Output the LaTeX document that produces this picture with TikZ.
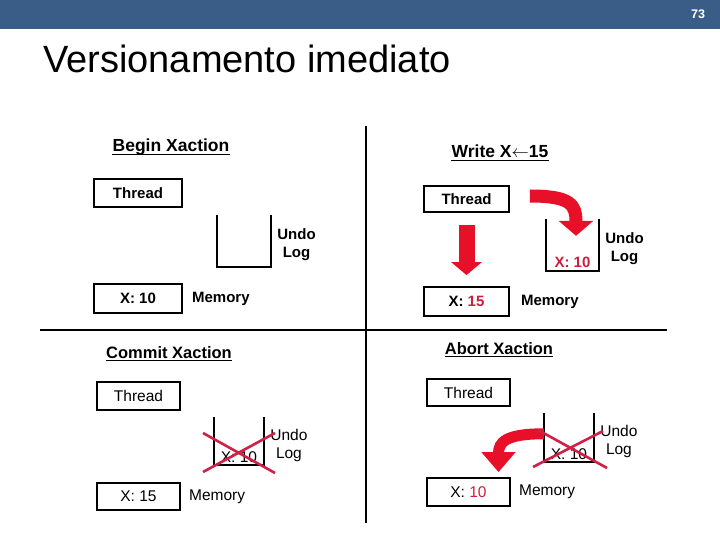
\documentclass[tikz,border=0pt]{standalone}
\usepackage{fontspec}
\setmainfont{Liberation Sans}
\usetikzlibrary{arrows.meta, positioning, calc}
\definecolor{barblue}{RGB}{58,93,136}
\definecolor{arrowred}{RGB}{232,16,40}
\definecolor{strikered}{RGB}{208,32,72}
\definecolor{valred}{RGB}{204,30,62}
\tikzset{
  box/.style      = {draw, line width=1.8pt, minimum width=88pt, minimum height=28pt,
                     inner sep=0pt, font=\fontsize{15}{18}\selectfont\bfseries},
  boxlow/.style   = {box, minimum width=83pt, font=\fontsize{15.5}{18}\selectfont},
  bucket/.style   = {minimum width=53pt, minimum height=52pt, inner sep=0pt},
  wall/.style     = {line width=1.8pt},
  lbl/.style      = {inner sep=0pt, align=center, font=\fontsize{15}{18}\selectfont\bfseries},
  lbllow/.style   = {lbl, font=\fontsize{15.5}{18}\selectfont},
  head/.style     = {inner sep=0pt, anchor=base, font=\fontsize{17.5}{20}\selectfont\bfseries},
  headlow/.style  = {head, font=\fontsize{16.5}{20}\selectfont\bfseries},
  uline/.style    = {line width=1.3pt},
  divider/.style  = {line width=1.1pt},
  blockarrow/.style = {arrowred, line width=#1},
  strike/.style   = {strikered, line width=2.6pt},
}
\begin{document}
\begin{tikzpicture}[x=1pt, y=-1pt]
\useasboundingbox (0,0) rectangle (720,540);

% slide header
\fill[barblue] (0,0) rectangle (720,29);
\node[font=\fontsize{12.5}{14}\selectfont\bfseries, text=white] (pg) at (698,14) {73};
\node[anchor=base west, inner sep=0pt, font=\fontsize{38}{44}\selectfont] (title) at (43,73)
   {Versionamento imediato};

% quadrant dividers
\draw[divider] (366,126) -- (366,523);
\draw[divider] (40,330) -- (667,330);

% begin
\node[head] (h1) at (171,152) {Begin Xaction};
\draw[uline] ($(h1.base west)+(0,2.6)$) -- ($(h1.base east)+(0,2.6)$);
\node[box] (thr1) at (138,193) {Thread};
\node[bucket, minimum width=54pt] (ulog1) at (244,241) {};
\draw[wall] (ulog1.north west) |- (ulog1.south east) -- (ulog1.north east);
\node[lbl, right=6pt of ulog1, yshift=-4pt] (undo1) {Undo\\Log};
\node[box, minimum height=29pt] (mem1) at (138,298.5) {X: 10};
\node[lbl, right=9pt of mem1] (memt1) {Memory};

% write
\node[head] (h2) at (500,158) {Write X$\leftarrow$15};
\draw[uline] ($(h2.base west)+(0,2.6)$) -- ($(h2.base east)+(0,2.6)$);
\node[box, minimum width=85pt, minimum height=26pt] (thr2) at (466.5,199) {Thread};
\node[bucket] (ulog2) at (572.5,245) {};
\draw[wall] (ulog2.north west) |- (ulog2.south east) -- (ulog2.north east);
\node[lbl, text=valred, anchor=south, inner sep=3pt] (old2) at (ulog2.south) {X: 10};
\node[lbl, right=6pt of ulog2, yshift=-4pt] (undo2) {Undo\\Log};
\node[box, minimum width=85pt, minimum height=29pt] (mem2) at (466.5,301.5)
   {X: \textcolor{valred}{15}};
\node[lbl, right=11pt of mem2] (memt2) {Memory};
\draw[blockarrow=16pt, -{Triangle[width=30pt,length=13pt]},
      shorten <=12pt, shorten >=11pt] (thr2) -- (mem2);
\draw[blockarrow=13pt, -{Triangle[width=34pt,length=15pt]}]
   ($(thr2.east)+(20,-3)$) .. controls +(41,0) and +(0,-31) .. ($(ulog2.north)+(3.5,17)$);

% commit
\node[headlow] (h3) at (169,358) {Commit Xaction};
\draw[uline] ($(h3.base west)+(0,2.6)$) -- ($(h3.base east)+(0,2.6)$);
\node[boxlow] (thr3) at (138.5,396) {Thread};
\node[bucket, minimum width=50pt, minimum height=48pt] (ulog3) at (239,441) {};
\draw[wall] (ulog3.north west) |- (ulog3.south east) -- (ulog3.north east);
\node[lbllow, anchor=south, inner sep=2pt] (old3) at (ulog3.south) {X: 10};
\node[lbllow, right=6pt of ulog3, yshift=-4pt] (undo3) {Undo\\Log};
\node[boxlow, minimum height=27pt] (mem3) at (138.5,496.5) {X: 15};
\node[lbllow, right=8pt of mem3] (memt3) {Memory};
\draw[strike] ($(ulog3.center)+(-36,-8)$) -- ($(ulog3.center)+(36,32)$);
\draw[strike] ($(ulog3.center)+(-36,31)$) -- ($(ulog3.center)+(36,-8)$);

% abort
\node[headlow] (h4) at (499,354) {Abort Xaction};
\draw[uline] ($(h4.base west)+(0,2.6)$) -- ($(h4.base east)+(0,2.6)$);
\node[boxlow, minimum height=27pt] (thr4) at (468.5,392.5) {Thread};
\node[bucket, minimum width=50pt, minimum height=49pt] (ulog4) at (569,437.5) {};
\draw[wall] (ulog4.north west) |- (ulog4.south east) -- (ulog4.north east);
\node[lbllow, anchor=south, inner sep=2pt] (old4) at (ulog4.south) {X: 10};
\node[lbllow, right=6pt of ulog4, yshift=-4pt] (undo4) {Undo\\Log};
\node[boxlow] (mem4) at (468.5,492) {X: \textcolor{valred}{10}};
\node[lbllow, right=8pt of mem4] (memt4) {Memory};
\draw[blockarrow=11pt, -{Triangle[width=33pt,length=20pt]}]
   ($(ulog4.north west)+(0,21)$) .. controls +(-38,0) and +(0,-30) .. ($(mem4.north)+(30,-5)$);
\draw[strike] ($(ulog4.center)+(-36,29.5)$) -- ($(ulog4.center)+(34,-6.5)$);
\draw[strike] ($(ulog4.center)+(-31,-7.5)$) -- ($(ulog4.center)+(38,30.5)$);
\end{tikzpicture}
\end{document}
